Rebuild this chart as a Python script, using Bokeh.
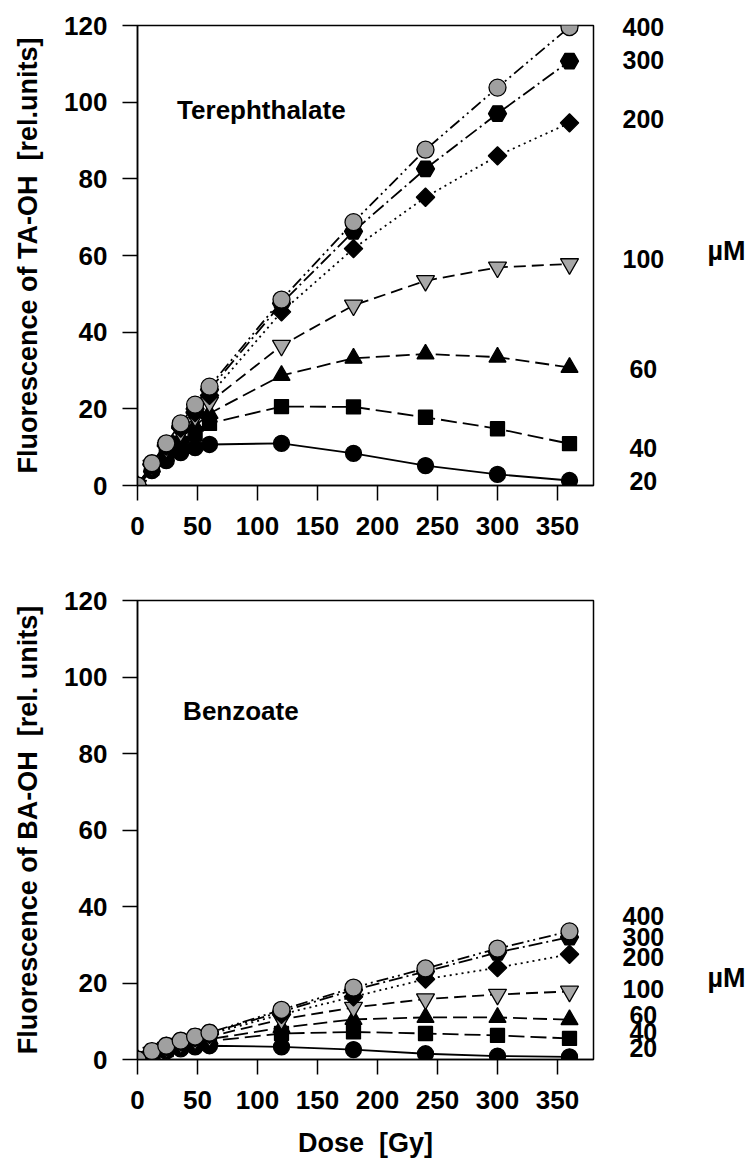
import math
from bokeh.plotting import figure
from bokeh.models import Range1d, Label, FixedTicker, LinearAxis
from bokeh.layouts import column
from bokeh.embed import file_html
from bokeh.resources import INLINE

# ---------------- data ----------------
dose = [0, 12, 24, 36, 48, 60, 120, 180, 240, 300, 360]
conc_labels = ["20", "40", "60", "100", "200", "300", "400"]

# Terephthalate -> TA-OH fluorescence [rel. units]
ta_20 = [0, 3.9, 6.5, 8.6, 9.9, 10.7, 11.0, 8.4, 5.2, 2.9, 1.3]
ta_40 = [0, 4.5, 8.0, 11.0, 13.5, 16.2, 20.6, 20.5, 17.8, 14.8, 10.9]
ta_60 = [0, 4.8, 9.0, 12.5, 15.5, 18.8, 28.7, 33.2, 34.3, 33.5, 30.8]
ta_100 = [0, 5.2, 9.8, 14.0, 18.0, 21.7, 36.5, 47.0, 53.4, 56.9, 57.8]
ta_200 = [0, 5.4, 10.3, 15.0, 19.0, 23.5, 45.3, 61.8, 75.2, 86.0, 94.6]
ta_300 = [0, 5.6, 10.6, 15.5, 20.0, 25.0, 47.5, 66.3, 82.6, 97.0, 110.7]
ta_400 = [0, 5.8, 11.0, 16.2, 21.1, 25.8, 48.5, 68.7, 87.6, 103.8, 119.6]

# Benzoate -> BA-OH fluorescence [rel. units]
ba_20 = [0, 1.3, 2.2, 2.8, 3.3, 3.6, 3.3, 2.6, 1.5, 0.9, 0.7]
ba_40 = [0, 1.5, 2.6, 3.5, 4.2, 4.8, 6.8, 7.2, 6.8, 6.3, 5.5]
ba_60 = [0, 1.6, 2.8, 3.8, 4.6, 5.3, 8.3, 10.5, 11.0, 11.0, 10.4]
ba_100 = [0, 1.8, 3.1, 4.2, 5.2, 6.0, 10.5, 13.6, 15.8, 17.0, 17.8]
ba_200 = [0, 2.0, 3.4, 4.6, 5.7, 6.6, 11.8, 16.4, 21.0, 24.0, 27.5]
ba_300 = [0, 2.1, 3.5, 4.8, 5.9, 6.9, 12.5, 18.2, 23.0, 28.0, 32.0]
ba_400 = [0, 2.2, 3.6, 4.9, 6.0, 7.0, 13.0, 18.8, 23.8, 29.0, 33.5]

x_ticks = [0, 50, 100, 150, 200, 250, 300, 350]
y_ticks = [0, 20, 40, 60, 80, 100, 120]

# vertical anchors (in y units) of the concentration labels at right
ta_label_y = [1.3, 9.7, 30.5, 59.2, 95.7, 110.9, 119.5]
ba_label_y = [2.9, 7.3, 11.7, 18.5, 26.9, 31.9, 37.6]
unit_label = "µM"

# ---------------- styles ----------------
FONT = "Liberation Sans"
styles = [
    dict(marker="circle", fill="black", size=16, angle=0.0, dash="solid"),
    dict(marker="square", fill="black", size=14, angle=0.0, dash="16 6"),
    dict(marker="triangle", fill="black", size=17, angle=0.0, dash="14 6"),
    dict(marker="inverted_triangle", fill="#a8a8a8", size=18, angle=0.0, dash="12 6"),
    dict(marker="square", fill="black", size=13, angle=math.pi / 4, dash="2 4"),
    dict(marker="hex", fill="black", size=18, angle=0.0, dash="14 4 2 4"),
    dict(marker="circle", fill="#a0a0a0", size=17, angle=0.0, dash="12 4 2 4 2 4"),
]


def pad(s):
    return ("\u00a0" + s) if len(s) == 2 else s


def make_plot(series, label_y, name, name_xy, ylabel, xlabel, height, mb_top, mb_bottom, um_y):
    p = figure(width=750, height=height, x_range=Range1d(0, 380), y_range=Range1d(0, 120),
               output_backend="svg", toolbar_location=None,
               min_border_left=137, min_border_right=157,
               min_border_top=mb_top, min_border_bottom=mb_bottom)
    p.grid.visible = False
    p.outline_line_color = "black"
    p.outline_line_width = 1.5
    p.background_fill_color = "white"
    p.border_fill_color = "white"

    for ax, ticks in ((p.xaxis, x_ticks), (p.yaxis, y_ticks)):
        ax.ticker = FixedTicker(ticks=ticks, minor_ticks=[])
        ax.major_tick_out = 15
        ax.major_tick_in = 0
        ax.major_tick_line_width = 1.5
        ax.axis_line_width = 1.5
        ax.major_label_text_font = FONT
        ax.major_label_text_font_size = "26px"
        ax.major_label_text_font_style = "bold"
        ax.major_label_text_color = "black"
        ax.axis_label_text_font = FONT
        ax.axis_label_text_font_size = "27px"
        ax.axis_label_text_font_style = "bold"
        ax.axis_label_text_color = "black"
    p.xaxis.major_label_standoff = 16
    p.yaxis.major_label_standoff = 15
    p.yaxis.axis_label = ylabel
    p.yaxis.axis_label_standoff = 18
    if xlabel:
        p.xaxis.axis_label = xlabel
        p.xaxis.axis_label_standoff = 16

    # concentration labels at right (an axis without line or ticks)
    rax = LinearAxis(ticker=FixedTicker(ticks=label_y, minor_ticks=[]),
                     major_label_overrides={yv: pad(lab) for yv, lab in zip(label_y, conc_labels)},
                     axis_line_color=None, major_tick_line_color=None,
                     major_tick_in=0, major_tick_out=0, major_label_standoff=29,
                     major_label_text_font=FONT, major_label_text_font_size="25px",
                     major_label_text_font_style="bold", major_label_text_color="black")
    p.add_layout(rax, "right")
    uax = LinearAxis(ticker=FixedTicker(ticks=[um_y], minor_ticks=[]),
                     major_label_overrides={um_y: unit_label},
                     axis_line_color=None, major_tick_line_color=None,
                     major_tick_in=0, major_tick_out=0, major_label_standoff=40,
                     major_label_text_font=FONT, major_label_text_font_size="27px",
                     major_label_text_font_style="bold", major_label_text_color="black")
    p.add_layout(uax, "right")

    for vals, st in zip(series, styles):
        p.line(dose, vals, line_color="black", line_width=1.8, line_dash=st["dash"])
    for vals, st in zip(series, styles):
        p.scatter(dose, vals, marker=st["marker"], size=st["size"], angle=st["angle"],
                  fill_color=st["fill"], line_color="black", line_width=1.3)

    p.add_layout(Label(x=name_xy[0], y=name_xy[1], text=name, text_align="left",
                       text_baseline="middle", text_font=FONT, text_font_size="26px",
                       text_font_style="bold", text_color="black"))
    return p


p1 = make_plot([ta_20, ta_40, ta_60, ta_100, ta_200, ta_300, ta_400], ta_label_y,
               "Terephthalate", (33, 98),
               "Fluorescence of TA-OH\u00a0 [rel.units]", None, 560, 25, 75, 61.3)
p2 = make_plot([ba_20, ba_40, ba_60, ba_100, ba_200, ba_300, ba_400], ba_label_y,
               "Benzoate", (38, 91),
               "Fluorescence of BA-OH\u00a0 [rel. units]", "Dose\u00a0 [Gy]", 608, 40, 109, 21.2)

layout = column(p1, p2)
open("out.html", "w").write(file_html(layout, INLINE))
